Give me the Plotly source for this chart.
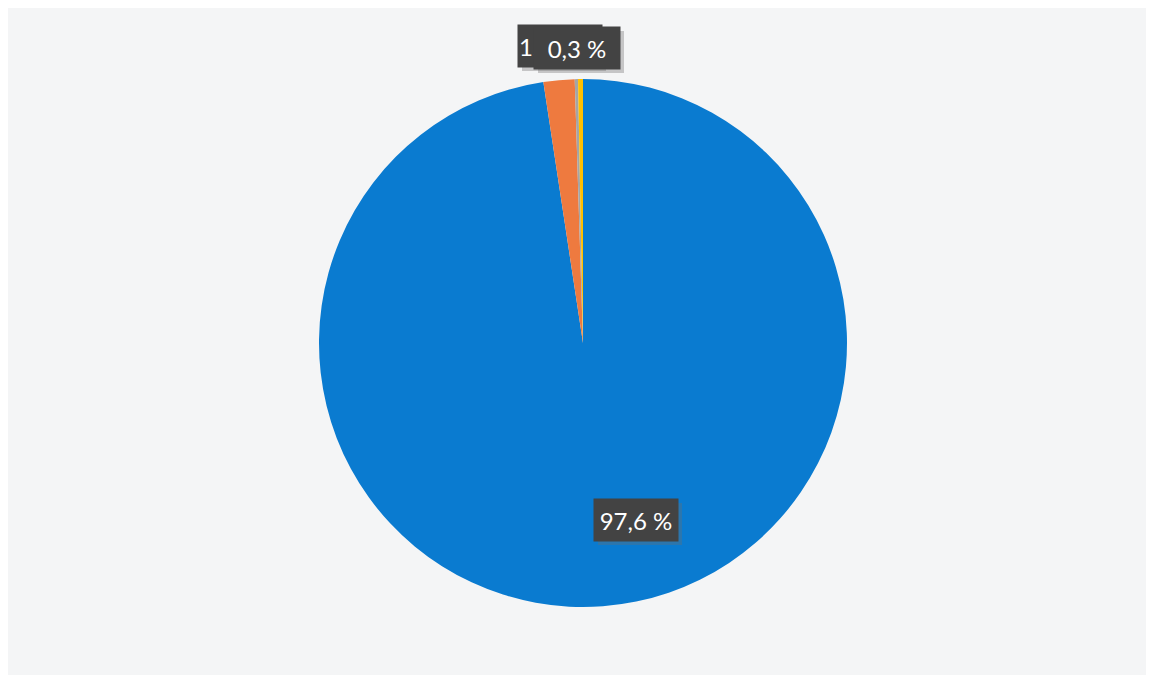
import plotly.graph_objects as go

categories = ["A", "B", "C", "D"]
values = [97.6, 1.9, 0.2, 0.3]
labels_text = ["97,6 %", "1,9 %", "", "0,3 %"]
colors = ["#0A7BD0", "#EE7A3F", "#A5A5A5", "#FFC000"]

W, H = 1154, 675
OFF = 8  # page offset of the figure
cx, cy, r = 583 - OFF, 343 - OFF, 264

fig = go.Figure(go.Pie(
    labels=categories, values=values, sort=False, direction="clockwise",
    rotation=0, textinfo="none", hoverinfo="label+percent",
    marker=dict(colors=colors, line=dict(width=0)),
    domain=dict(x=[(cx - r) / W, (cx + r) / W], y=[1 - (cy + r) / H, 1 - (cy - r) / H]),
    showlegend=False,
))

# label box centres (pixels, figure coordinates)
label_pos = {0: (636 - OFF, 520 - OFF), 1: (560 - OFF, 46 - OFF), 3: (577 - OFF, 48 - OFF)}
box_w = {0: 84, 1: 84, 3: 86}
bh = 42
for i in [0, 1, 3]:
    px, py = label_pos[i]
    bw = box_w[i]
    fig.add_shape(type="rect", xref="paper", yref="paper",
                  x0=(px - bw / 2 + 4) / W, x1=(px + bw / 2 + 4) / W,
                  y0=1 - (py + bh / 2 + 4) / H, y1=1 - (py - bh / 2 + 4) / H,
                  fillcolor="rgba(110,110,110,0.35)", line=dict(width=0), layer="above")
for i in [0, 1, 3]:
    px, py = label_pos[i]
    bw = box_w[i]
    fig.add_annotation(x=px / W, y=1 - py / H, xref="paper", yref="paper",
                       xanchor="center", yanchor="middle",
                       text=labels_text[i], showarrow=False,
                       bgcolor="#434343", width=bw - 2, height=bh - 2, borderpad=1,
                       align="left" if i == 1 else "center", valign="middle",
                       font=dict(family="Lato, Noto Sans", size=24, color="white"))

fig.update_layout(width=W, height=H, margin=dict(l=0, r=0, t=0, b=0),
                  paper_bgcolor="#F4F5F6", plot_bgcolor="#F4F5F6")
fig.write_html("out.html")
